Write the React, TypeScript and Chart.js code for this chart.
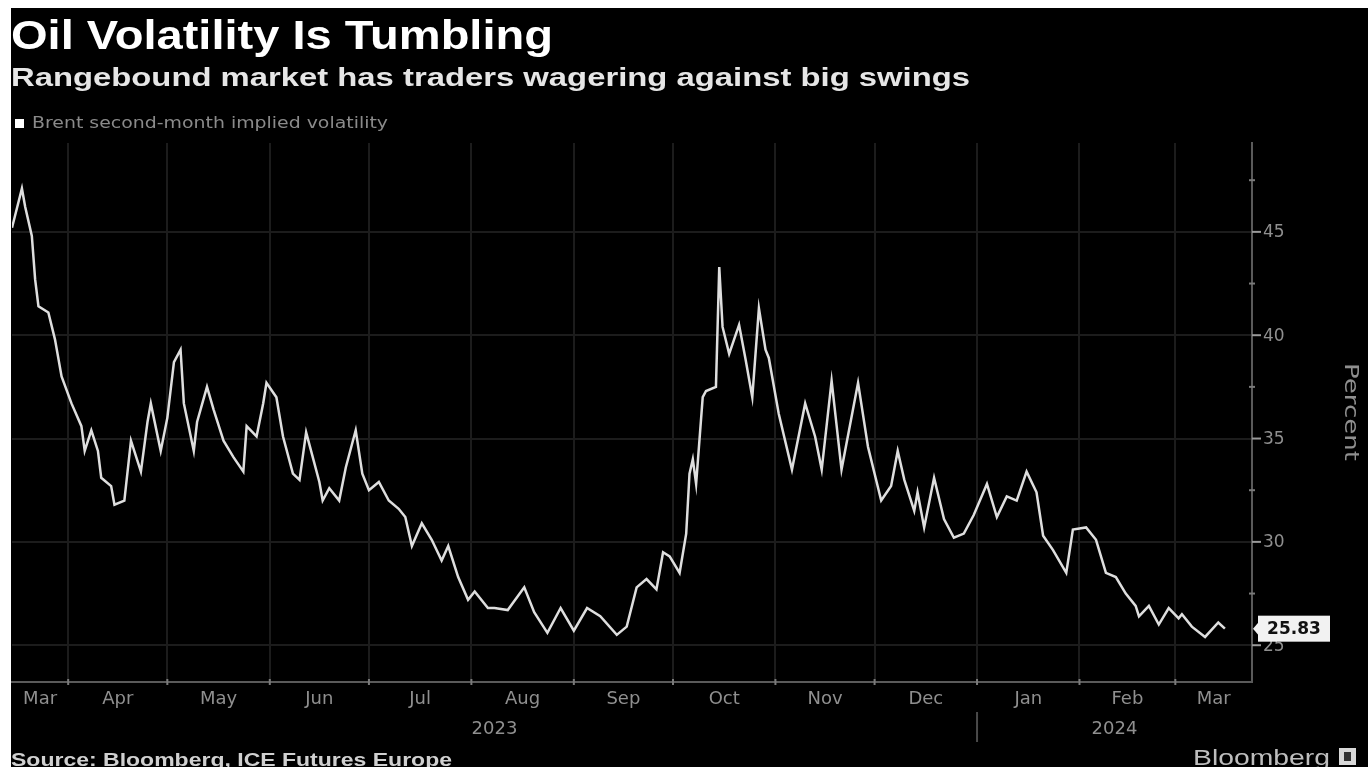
import React, { useEffect, useRef } from 'react';
import { Chart, registerables } from 'chart.js';

Chart.register(...registerables);

// ---- Data ----
const dates = [
  '2023-03-15', '2023-03-18', '2023-03-19', '2023-03-21', '2023-03-22', '2023-03-23', '2023-03-26', '2023-03-28', '2023-03-30',
  '2023-04-02', '2023-04-05', '2023-04-06', '2023-04-08', '2023-04-10', '2023-04-11', '2023-04-14', '2023-04-15', '2023-04-18',
  '2023-04-20', '2023-04-23', '2023-04-25', '2023-04-26', '2023-04-29',
  '2023-05-01', '2023-05-03', '2023-05-05', '2023-05-06', '2023-05-09', '2023-05-10', '2023-05-13', '2023-05-15', '2023-05-18',
  '2023-05-21', '2023-05-24', '2023-05-25', '2023-05-28', '2023-05-30', '2023-05-31',
  '2023-06-03', '2023-06-05', '2023-06-08', '2023-06-10', '2023-06-12', '2023-06-14', '2023-06-16', '2023-06-17', '2023-06-19',
  '2023-06-22', '2023-06-24', '2023-06-27', '2023-06-29',
  '2023-07-01', '2023-07-04', '2023-07-07', '2023-07-10', '2023-07-12', '2023-07-14', '2023-07-17', '2023-07-20', '2023-07-23',
  '2023-07-25', '2023-07-28', '2023-07-31',
  '2023-08-02', '2023-08-06', '2023-08-08', '2023-08-12', '2023-08-17', '2023-08-20', '2023-08-24', '2023-08-28',
  '2023-09-01', '2023-09-05', '2023-09-09', '2023-09-14', '2023-09-17', '2023-09-20', '2023-09-23', '2023-09-26', '2023-09-28', '2023-09-30',
  '2023-10-03', '2023-10-05', '2023-10-06', '2023-10-07', '2023-10-08', '2023-10-10', '2023-10-11', '2023-10-14', '2023-10-15',
  '2023-10-16', '2023-10-18', '2023-10-21', '2023-10-23', '2023-10-25', '2023-10-27', '2023-10-29', '2023-10-30',
  '2023-11-02', '2023-11-06', '2023-11-10', '2023-11-13', '2023-11-15', '2023-11-18', '2023-11-21', '2023-11-26', '2023-11-29',
  '2023-12-03', '2023-12-06', '2023-12-08', '2023-12-10', '2023-12-13', '2023-12-14', '2023-12-16', '2023-12-19', '2023-12-22',
  '2023-12-25', '2023-12-28', '2023-12-31',
  '2024-01-04', '2024-01-07', '2024-01-10', '2024-01-13', '2024-01-16', '2024-01-19', '2024-01-21', '2024-01-24', '2024-01-28', '2024-01-30',
  '2024-02-03', '2024-02-06', '2024-02-09', '2024-02-12', '2024-02-15', '2024-02-18', '2024-02-19', '2024-02-22', '2024-02-25', '2024-02-28',
  '2024-03-02', '2024-03-03', '2024-03-06', '2024-03-10', '2024-03-14', '2024-03-16',
];

const values = [
  45.2, 47.1, 46.2, 44.8, 42.7, 41.4, 41.1, 39.8, 38.0,
  36.7, 35.6, 34.4, 35.4, 34.4, 33.1, 32.7, 31.8, 32.0,
  34.9, 33.4, 35.8, 36.7, 34.4,
  36.0, 38.7, 39.3, 36.7, 34.4, 35.8, 37.5, 36.4, 34.9,
  34.1, 33.4, 35.6, 35.1, 36.7, 37.7,
  37.0, 35.1, 33.3, 33.0, 35.3, 34.1, 32.9, 32.0, 32.6,
  32.0, 33.6, 35.4, 33.3,
  32.5, 32.9, 32.0, 31.6, 31.2, 29.8, 30.9, 30.1, 29.1,
  29.8, 28.3, 27.2,
  27.6, 26.8, 26.8, 26.7, 27.8, 26.6, 25.6, 26.8,
  25.7, 26.8, 26.4, 25.5, 25.9, 27.8, 28.2, 27.7, 29.5, 29.3,
  28.5, 30.4, 33.3, 34.0, 32.8, 37.0, 37.3, 37.5, 43.3,
  40.4, 39.1, 40.5, 38.8, 37.0, 41.3, 39.3, 38.9,
  36.2, 33.5, 36.7, 35.1, 33.5, 37.8, 33.5, 37.7, 34.6,
  32.0, 32.7, 34.4, 33.0, 31.5, 32.4, 30.7, 33.1, 31.1,
  30.2, 30.4, 31.3,
  32.8, 31.2, 32.2, 32.0, 33.4, 32.4, 30.3, 29.6, 28.5, 30.6,
  30.7, 30.1, 28.5, 28.3, 27.5, 26.9, 26.4, 26.9, 26.0, 26.8,
  26.3, 26.5, 25.9, 25.4, 26.1, 25.8,
];

const yTickValues = [25, 30, 35, 40, 45];
const yTickLabels = ['25', '30', '35', '40', '45'];
const monthStartDates = [
  '2023-04-01', '2023-05-01', '2023-06-01', '2023-07-01', '2023-08-01', '2023-09-01',
  '2023-10-01', '2023-11-01', '2023-12-01', '2024-01-01', '2024-02-01', '2024-03-01',
];
const monthNames = ['Mar', 'Apr', 'May', 'Jun', 'Jul', 'Aug', 'Sep', 'Oct', 'Nov', 'Dec', 'Jan', 'Feb', 'Mar'];
const yearNames = ['2023', '2024'];
const yearBreakDate = '2024-01-01';
const lastValueLabel = '25.83';

const titleText = 'Oil Volatility Is Tumbling';
const subtitleText = 'Rangebound market has traders wagering against big swings';
const legendText = 'Brent second-month implied volatility';
const axisTitleText = 'Percent';
const sourceText = 'Source: Bloomberg, ICE Futures Europe';
const brandText = 'Bloomberg';

// ---- helpers ----
const ORIGIN = Date.UTC(2023, 2, 1);
const dayIndex = (s: string) => {
  const [y, m, d] = s.split('-').map(Number);
  return (Date.UTC(y, m - 1, d) - ORIGIN) / 86400000;
};

const X_MIN = 14;
const X_MAX = 389.2;
const Y_MIN = 23.22;
const Y_MAX = 49.3;

const GRID = '#1c1c1c';
const AXIS = '#5a5a5a';
const LABEL = '#8f8f8f';

const OFF_X = 11;
const OFF_Y = 8;
const W = 1357;
const H = 759;

function drawText(
  ctx: CanvasRenderingContext2D,
  text: string,
  x: number,
  y: number,
  opts: { font: string; color: string; width?: number; align?: CanvasTextAlign; baseline?: CanvasTextBaseline }
) {
  ctx.save();
  ctx.font = opts.font;
  ctx.fillStyle = opts.color;
  ctx.textBaseline = opts.baseline || 'alphabetic';
  const align = opts.align || 'left';
  const m = ctx.measureText(text).width;
  const sx = opts.width ? opts.width / m : 1;
  const w = m * sx;
  let left = x;
  if (align === 'center') left = x - w / 2;
  else if (align === 'right') left = x - w;
  ctx.translate(left, y);
  ctx.scale(sx, 1);
  ctx.textAlign = 'left';
  ctx.fillText(text, 0, 0);
  ctx.restore();
}

const overlayPlugin = {
  id: 'overlay',
  afterDraw(chart: any) {
    const ctx: CanvasRenderingContext2D = chart.ctx;
    const xs = chart.scales.x;
    const ys = chart.scales.y;
    const area = chart.chartArea;
    ctx.save();
    ctx.translate(-OFF_X, -OFF_Y);
    const px = (d: number) => xs.getPixelForValue(d) + OFF_X;
    const py = (v: number) => ys.getPixelForValue(v) + OFF_Y;
    const right = area.right + OFF_X;
    const bottom = area.bottom + OFF_Y;

    // Title, subtitle
    drawText(ctx, titleText, 11, 49, { font: 'bold 40px "Liberation Sans"', color: '#ffffff', width: 542 });
    drawText(ctx, subtitleText, 11, 86, { font: 'bold 26px "Liberation Sans"', color: '#e6e6e6', width: 959 });

    // Legend
    ctx.fillStyle = '#ffffff';
    ctx.fillRect(15, 119, 9, 9);
    drawText(ctx, legendText, 32, 124, { font: '15px "DejaVu Sans"', color: '#8a8a8a', width: 356, baseline: 'middle' });

    // y tick marks & labels
    ctx.strokeStyle = '#9a9a9a';
    ctx.lineWidth = 2;
    yTickValues.forEach((v, i) => {
      const y = py(v);
      ctx.beginPath();
      ctx.moveTo(right, y);
      ctx.lineTo(right + 9, y);
      ctx.stroke();
      drawText(ctx, yTickLabels[i], right + 11, y + 1, { font: '17px "DejaVu Sans"', color: LABEL, baseline: 'middle' });
    });
    // minor ticks on y axis
    ctx.strokeStyle = '#7a7a7a';
    for (let i = 0; i < yTickValues.length; i++) {
      const v = yTickValues[i] + 2.5;
      if (v < Y_MAX) {
        const y = py(v);
        ctx.beginPath();
        ctx.moveTo(right - 3, y);
        ctx.lineTo(right + 3, y);
        ctx.stroke();
      }
    }

    // x tick marks at month starts
    ctx.strokeStyle = '#7a7a7a';
    monthStartDates.forEach((s) => {
      const x = px(dayIndex(s));
      ctx.beginPath();
      ctx.moveTo(x, bottom - 3);
      ctx.lineTo(x, bottom + 3);
      ctx.stroke();
    });

    // month labels centred in each month segment
    const bounds = [X_MIN, ...monthStartDates.map(dayIndex), X_MAX];
    monthNames.forEach((name, i) => {
      const mid = (bounds[i] + bounds[i + 1]) / 2;
      drawText(ctx, name, px(mid), 699, { font: '18px "DejaVu Sans"', color: LABEL, align: 'center', baseline: 'middle' });
    });

    // year labels centred on year spans
    const yb = dayIndex(yearBreakDate);
    const ySpans = [[X_MIN, yb], [yb, X_MAX]];
    yearNames.forEach((name, i) => {
      const mid = (ySpans[i][0] + ySpans[i][1]) / 2;
      drawText(ctx, name, px(mid), 729, { font: '18px "DejaVu Sans"', color: LABEL, align: 'center', baseline: 'middle' });
    });
    // year separator
    ctx.strokeStyle = '#4a4a4a';
    ctx.lineWidth = 2;
    ctx.beginPath();
    ctx.moveTo(px(yb), 712);
    ctx.lineTo(px(yb), 742);
    ctx.stroke();

    // axis title
    ctx.save();
    ctx.translate(1350, 412);
    ctx.rotate(Math.PI / 2);
    drawText(ctx, axisTitleText, 0, 0, { font: '20px "DejaVu Sans"', color: LABEL, width: 98, align: 'center', baseline: 'middle' });
    ctx.restore();

    // last value label
    const lastY = py(values[values.length - 1]);
    ctx.fillStyle = '#f2f2f2';
    ctx.beginPath();
    ctx.moveTo(right + 1, lastY);
    ctx.lineTo(right + 7, lastY - 7);
    ctx.lineTo(right + 7, lastY + 7);
    ctx.closePath();
    ctx.fill();
    ctx.fillRect(right + 6, lastY - 13, 72, 26);
    drawText(ctx, lastValueLabel, right + 42, lastY + 1, { font: 'bold 17px "DejaVu Sans"', color: '#111111', align: 'center', baseline: 'middle' });

    // footer
    drawText(ctx, sourceText, 11, 766, { font: 'bold 18px "Liberation Sans"', color: '#d0d0d0', width: 441 });
    drawText(ctx, brandText, 1193, 765, { font: '22px "Liberation Sans"', color: '#bdbdbd', width: 137 });
    ctx.fillStyle = '#d8d8d8';
    ctx.fillRect(1339, 748, 17, 17);
    ctx.fillStyle = '#333333';
    ctx.fillRect(1344, 752, 7, 9);

    ctx.restore();
  },
};

export default function App() {
  const ref = useRef<HTMLCanvasElement | null>(null);
  useEffect(() => {
    if (!ref.current) return;
    const points = dates.map((d, i) => ({ x: dayIndex(d), y: values[i] }));
    const chart = new Chart(ref.current, {
      type: 'line',
      data: {
        datasets: [
          {
            data: points,
            borderColor: '#dedede',
            borderWidth: 2.5,
            pointRadius: 0,
            tension: 0,
            fill: false,
          },
        ],
      },
      options: {
        animation: false,
        responsive: false,
        maintainAspectRatio: false,
        layout: { padding: { left: 1, top: 135, right: 0, bottom: 0 } },
        plugins: {
          legend: { display: false },
          title: { display: false },
          tooltip: { enabled: false },
        },
        scales: {
          x: {
            type: 'linear',
            min: X_MIN,
            max: X_MAX,
            afterBuildTicks: (s: any) => {
              s.ticks = monthStartDates.map((d) => ({ value: dayIndex(d) }));
            },
            afterFit: (s: any) => {
              s.height = H - 674;
            },
            ticks: { display: false },
            grid: { color: GRID, lineWidth: 2, drawTicks: false },
            border: { display: true, color: AXIS, width: 2 },
          },
          y: {
            position: 'right',
            min: Y_MIN,
            max: Y_MAX,
            afterBuildTicks: (s: any) => {
              s.ticks = yTickValues.map((v) => ({ value: v }));
            },
            afterFit: (s: any) => {
              s.width = W - 1241;
            },
            ticks: { display: false },
            grid: { color: GRID, lineWidth: 2, drawTicks: false },
            border: { display: true, color: AXIS, width: 2 },
          },
        },
      },
      plugins: [overlayPlugin],
    });
    return () => chart.destroy();
  }, []);

  return (
    <div
      style={{
        position: 'absolute',
        left: OFF_X,
        top: OFF_Y,
        width: W,
        height: H,
        background: '#000000',
        overflow: 'hidden',
      }}
    >
      <canvas ref={ref} width={W} height={H} style={{ display: 'block', width: W, height: H }} />
    </div>
  );
}
